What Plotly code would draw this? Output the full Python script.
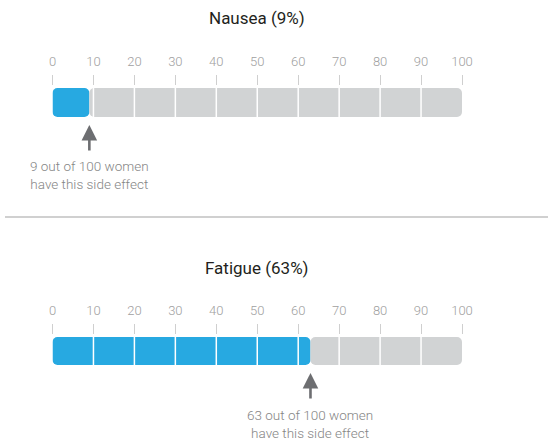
import plotly.graph_objects as go

# Side effects and the share of women who report them (per 100)
effects = ["Nausea", "Fatigue"]
rates = [9, 63]
tick_values = [0, 10, 20, 30, 40, 50, 60, 70, 80, 90, 100]
tick_labels = [str(v) for v in tick_values]
total = 100

BLUE = "#27a9e1"
GREY = "#d1d3d4"
FONT = "Roboto"

W, H = 548, 442


def py(px):
    """Convert a pixel row (from top) into paper coordinates."""
    return 1 - px / H


# vertical layout of each panel (pixel rows)
panels = [
    dict(title_y=18, axis_y=85, bar_top=88, bar_bot=117, note_y=175),
    dict(title_y=268, axis_y=334, bar_top=337, bar_bot=365, note_y=424),
]
x_domain = [52.5 / W, 462 / W]

fig = go.Figure()
annotations = []
layout_axes = {}
n_axes = len(effects)

for i, (name, rate, p) in enumerate(zip(effects, rates, panels)):
    n = "" if i == 0 else str(i + 1)
    xa, ya = "x" + n, "y" + n

    # blue part drawn from the rate back to zero so the rounded end sits at 0
    fig.add_trace(go.Bar(
        x=[-rate], base=[rate], y=[0], orientation="h", width=1,
        marker=dict(color=BLUE, cornerradius=5, line=dict(width=0)),
        xaxis=xa, yaxis=ya, hoverinfo="skip", showlegend=False,
    ))
    # grey remainder up to 100
    fig.add_trace(go.Bar(
        x=[total - rate], base=[rate], y=[0], orientation="h", width=1,
        marker=dict(color=GREY, cornerradius=5, line=dict(width=0)),
        xaxis=xa, yaxis=ya, hoverinfo="skip", showlegend=False,
    ))
    # white separators every 10 units
    sx, sy = [], []
    for v in tick_values[1:-1]:
        sx += [v, v, None]
        sy += [-0.5, 0.5, None]
    fig.add_trace(go.Scatter(
        x=sx, y=sy, mode="lines", line=dict(color="white", width=1.5),
        xaxis=xa, yaxis=ya, hoverinfo="skip", showlegend=False,
    ))

    layout_axes["xaxis" + n] = dict(
        domain=x_domain, range=[0, total], side="top",
        anchor="free", position=py(p["axis_y"]), automargin=False,
        tickmode="array", tickvals=tick_values, ticktext=tick_labels,
        ticks="outside", ticklen=10, tickwidth=1, tickcolor="#cfcfcf",
        ticklabelstandoff=4,
        tickfont=dict(family=FONT, size=13, color="#a0a0a0", weight=300),
        showgrid=False, zeroline=False, showline=False, fixedrange=True,
    )
    layout_axes["yaxis" + n] = dict(
        domain=[py(p["bar_bot"]), py(p["bar_top"])], range=[-0.5, 0.5],
        visible=False, fixedrange=True,
    )
    # short white ticks that split each grey tick into two dashes
    k = str(n_axes + i + 1)
    layout_axes["xaxis" + k] = dict(
        domain=x_domain, range=[0, total], side="top", overlaying=xa,
        anchor="free", position=py(p["axis_y"] - 3.4), automargin=False,
        tickmode="array", tickvals=tick_values, showticklabels=False,
        ticks="outside", ticklen=3.4, tickwidth=3, tickcolor="white",
        showgrid=False, zeroline=False, showline=False, fixedrange=True,
    )

    # panel title
    annotations.append(dict(
        text=f"{name} ({rate}%)", xref=xa, yref="paper", x=total / 2,
        y=py(p["title_y"]), xanchor="center", yanchor="middle",
        showarrow=False, font=dict(family=FONT, size=17, color="#231f20"),
    ))
    # arrow pointing at the end of the blue part
    annotations.append(dict(
        text="", xref=xa, yref=ya, x=rate, y=-0.5, ax=0, ay=35,
        showarrow=True, arrowhead=2, arrowsize=1.2, arrowwidth=2.6,
        arrowcolor="#6d6e71", standoff=8,
    ))
    # explanatory note under the arrow
    annotations.append(dict(
        text=f"{rate} out of {total} women<br>have this side effect",
        xref=xa, yref="paper", x=rate, y=py(p["note_y"]),
        xanchor="center", yanchor="middle", align="center", showarrow=False,
        font=dict(family=FONT, size=13.5, color="#858585", weight=300),
    ))

fig.update_layout(
    width=W, height=H,
    margin=dict(l=0, r=0, t=0, b=0, autoexpand=False),
    paper_bgcolor="white", plot_bgcolor="rgba(0,0,0,0)",
    barmode="overlay", showlegend=False,
    annotations=annotations,
    shapes=[dict(type="line", xref="paper", yref="paper",
                 x0=5 / W, x1=1, y0=py(217), y1=py(217),
                 line=dict(color="#d0d0d0", width=2))],
    **layout_axes,
)

fig.write_html("out.html")
